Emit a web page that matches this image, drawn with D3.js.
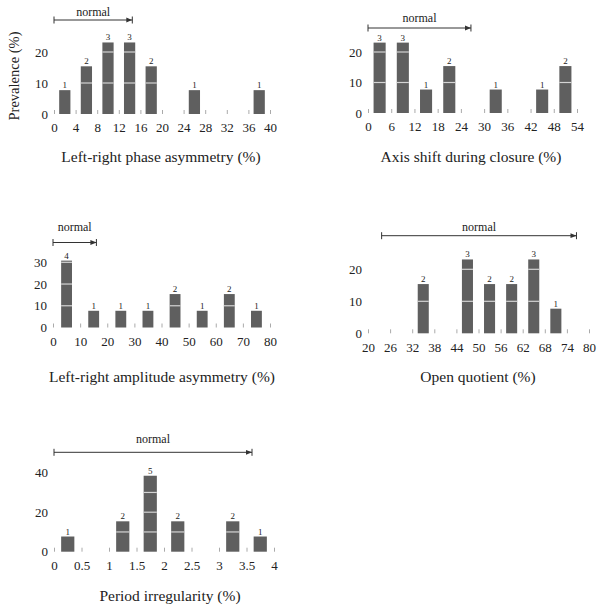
<!DOCTYPE html>
<html>
<head>
<meta charset="utf-8">
<script src="https://cdn.jsdelivr.net/npm/d3@7/dist/d3.min.js"></script>
<style>
  html, body { margin: 0; padding: 0; background: #fff; }
  svg { display: block; }
</style>
</head>
<body>
<svg id="chart" width="601" height="611"></svg>
<script>
// ---------------- DATA ----------------
const totalSubjects = 13;

// Panel 1: Left-right phase asymmetry (%)
const phaseTitle = "Left-right phase asymmetry (%)";
const phaseBinStarts = [0, 4, 8, 12, 16, 20, 24, 28, 32, 36];
const phaseCounts    = [1, 2, 3, 3, 2, 0, 1, 0, 0, 1];
const phaseXTicks    = [0, 4, 8, 12, 16, 20, 24, 28, 32, 36, 40];
const phaseYTicks    = [0, 10, 20];
const phaseNormal    = [0, 14.5];

// Panel 2: Axis shift during closure (%)
const axisTitle = "Axis shift during closure (%)";
const axisBinStarts = [0, 6, 12, 18, 24, 30, 36, 42, 48];
const axisCounts    = [3, 3, 1, 2, 0, 1, 0, 1, 2];
const axisXTicks    = [0, 6, 12, 18, 24, 30, 36, 42, 48, 54];
const axisYTicks    = [0, 10, 20];
const axisNormal    = [0, 26.6];

// Panel 3: Left-right amplitude asymmetry (%)
const ampTitle = "Left-right amplitude asymmetry (%)";
const ampBinStarts = [0, 10, 20, 30, 40, 50, 60, 70];
const ampCounts    = [4, 1, 1, 1, 2, 1, 2, 1];
const ampXTicks    = [0, 10, 20, 30, 40, 50, 60, 70, 80];
const ampYTicks    = [0, 10, 20, 30];
const ampNormal    = [0, 16];

// Panel 4: Open quotient (%)
const oqTitle = "Open quotient (%)";
const oqBinStarts = [20, 26, 32, 38, 44, 50, 56, 62, 68, 74];
const oqCounts    = [0, 0, 2, 0, 3, 2, 2, 3, 1, 0];
const oqXTicks    = [20, 26, 32, 38, 44, 50, 56, 62, 68, 74, 80];
const oqYTicks    = [0, 10, 20];
const oqNormal    = [23.7, 76.6];

// Panel 5: Period irregularity (%)
const perTitle = "Period irregularity (%)";
const perBinStarts = [0, 0.5, 1, 1.5, 2, 2.5, 3, 3.5];
const perCounts    = [1, 0, 2, 5, 2, 0, 2, 1];
const perXTicks    = [0, 0.5, 1, 1.5, 2, 2.5, 3, 3.5, 4];
const perYTicks    = [0, 20, 40];
const perNormal    = [0, 3.6];

const yAxisTitle = "Prevalence (%)";
const normalLabel = "normal";

// ---------------- LAYOUT (positions / styles) ----------------
const FONT = "'Liberation Serif', 'Times New Roman', serif";
const BAR_COLOR = "#5f5f5f";
const TEXT_COLOR = "#222";

const panels = [
  { title: phaseTitle, starts: phaseBinStarts, counts: phaseCounts, xt: phaseXTicks, yt: phaseYTicks, normal: phaseNormal,
    xDom: [0, 40], xRange: [54, 270], yBase: 114, yRef: 20, yRefPx: 52, barFrac: 0.52,
    normalY: 20, normalTextY: 12, titleX: 161, titleY: 157 },
  { title: axisTitle, starts: axisBinStarts, counts: axisCounts, xt: axisXTicks, yt: axisYTicks, normal: axisNormal,
    xDom: [0, 54], xRange: [368, 577], yBase: 113, yRef: 20, yRefPx: 52, barFrac: 0.52,
    normalY: 28, normalTextY: 18, titleX: 471, titleY: 157 },
  { title: ampTitle, starts: ampBinStarts, counts: ampCounts, xt: ampXTicks, yt: ampYTicks, normal: ampNormal,
    xDom: [0, 80], xRange: [53, 270], yBase: 327.5, yRef: 30, yRefPx: 262.3, barFrac: 0.4,
    normalY: 242.5, normalTextY: 227, titleX: 162, titleY: 377 },
  { title: oqTitle, starts: oqBinStarts, counts: oqCounts, xt: oqXTicks, yt: oqYTicks, normal: oqNormal,
    xDom: [20, 80], xRange: [368, 589], yBase: 333.3, yRef: 20, yRefPx: 269.3, barFrac: 0.5,
    normalY: 235.7, normalTextY: 227, titleX: 478, titleY: 377 },
  { title: perTitle, starts: perBinStarts, counts: perCounts, xt: perXTicks, yt: perYTicks, normal: perNormal,
    xDom: [0, 4], xRange: [54, 274], yBase: 551.7, yRef: 40, yRefPx: 472.7, barFrac: 0.48,
    normalY: 452.3, normalTextY: 439, titleX: 170, titleY: 596 }
];

const svg = d3.select("#chart");

svg.append("defs").append("marker")
  .attr("id", "arrow")
  .attr("viewBox", "0 0 10 10")
  .attr("refX", 10).attr("refY", 5)
  .attr("markerWidth", 6).attr("markerHeight", 6)
  .attr("markerUnits", "userSpaceOnUse")
  .attr("orient", "auto")
  .append("path").attr("d", "M0,1 L10,5 L0,9 Z").attr("fill", "#333");

panels.forEach(p => {
  const g = svg.append("g");
  const x = d3.scaleLinear().domain(p.xDom).range(p.xRange);
  const y = d3.scaleLinear().domain([0, p.yRef]).range([p.yBase, p.yRefPx]);
  const binW = p.starts[1] - p.starts[0];
  const data = p.starts.map((s, i) => ({ s, c: p.counts[i], v: p.counts[i] / totalSubjects * 100 }));

  // X axis (tick labels + small gray marks at bin edges)
  const xa = g.append("g")
    .attr("transform", `translate(0,${p.yBase})`)
    .call(d3.axisBottom(x).tickValues(p.xt).tickSize(-4).tickPadding(9).tickFormat(d3.format("~g")));
  xa.select(".domain").remove();
  xa.selectAll("line").attr("stroke", "#aaa");
  xa.selectAll("text").attr("font-family", FONT).attr("font-size", 13).attr("fill", TEXT_COLOR);

  // Y axis labels
  const ya = g.append("g")
    .attr("transform", `translate(${p.xRange[0]},0)`)
    .call(d3.axisLeft(y).tickValues(p.yt).tickSize(0).tickPadding(6));
  ya.select(".domain").remove();
  ya.selectAll("text").attr("font-family", FONT).attr("font-size", 13).attr("fill", TEXT_COLOR);

  // Bars
  const bw = (x(p.starts[0] + binW) - x(p.starts[0])) * p.barFrac;
  const bars = data.filter(d => d.c > 0);
  g.selectAll("rect.bar").data(bars).enter().append("rect")
    .attr("class", "bar")
    .attr("x", d => x(d.s + binW / 2) - bw / 2)
    .attr("width", bw)
    .attr("y", d => y(d.v))
    .attr("height", d => y(0) - y(d.v))
    .attr("fill", BAR_COLOR);

  // Light lines inside bars at multiples of 10
  bars.forEach(d => {
    for (let k = 10; k < d.v; k += 10) {
      g.append("line")
        .attr("x1", x(d.s + binW / 2) - bw / 2).attr("x2", x(d.s + binW / 2) + bw / 2)
        .attr("y1", y(k)).attr("y2", y(k))
        .attr("stroke", "#d4d4d4").attr("stroke-width", 1.2);
    }
  });

  // Count labels
  g.selectAll("text.cnt").data(bars).enter().append("text")
    .attr("class", "cnt")
    .attr("x", d => x(d.s + binW / 2))
    .attr("y", d => y(d.v) - 2)
    .attr("text-anchor", "middle")
    .attr("font-family", FONT).attr("font-size", 9).attr("fill", TEXT_COLOR)
    .text(d => d.c);

  // Normal range
  const nx1 = x(p.normal[0]), nx2 = x(p.normal[1]);
  g.append("line")
    .attr("x1", nx1).attr("x2", nx2).attr("y1", p.normalY).attr("y2", p.normalY)
    .attr("stroke", "#333").attr("stroke-width", 1)
    .attr("marker-end", "url(#arrow)");
  [nx1, nx2].forEach(xx => {
    g.append("line").attr("x1", xx).attr("x2", xx)
      .attr("y1", p.normalY - 3.5).attr("y2", p.normalY + 3.5)
      .attr("stroke", "#333").attr("stroke-width", 1);
  });
  g.append("text")
    .attr("x", (nx1 + nx2) / 2).attr("y", p.normalTextY).attr("dy", "0.35em")
    .attr("text-anchor", "middle")
    .attr("font-family", FONT).attr("font-size", 12).attr("fill", TEXT_COLOR)
    .text(normalLabel);

  // Axis title
  g.append("text")
    .attr("x", p.titleX).attr("y", p.titleY).attr("dy", "0.32em")
    .attr("text-anchor", "middle")
    .attr("font-family", FONT).attr("font-size", 15.5).attr("fill", TEXT_COLOR)
    .text(p.title);
});

// Y-axis title
svg.append("text")
  .attr("transform", "translate(14,76) rotate(-90)")
  .attr("dy", "0.35em")
  .attr("text-anchor", "middle")
  .attr("font-family", FONT).attr("font-size", 14.5).attr("fill", TEXT_COLOR)
  .text(yAxisTitle);
</script>
</body>
</html>
